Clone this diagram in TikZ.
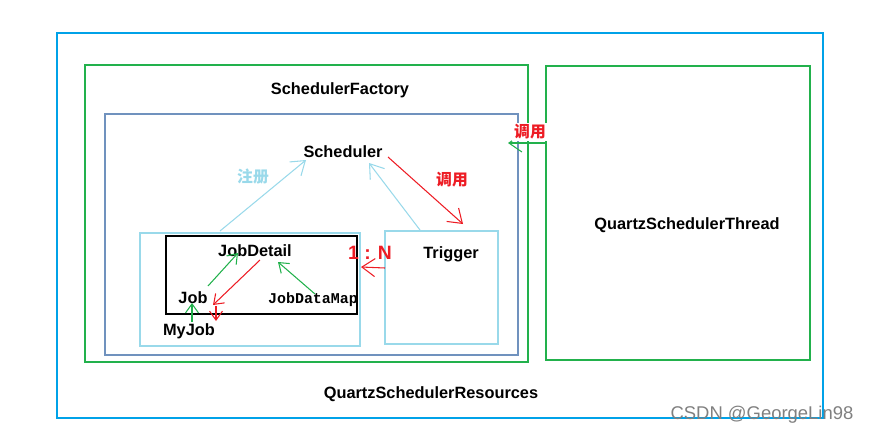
\documentclass[tikz,border=0pt]{standalone}
\usepackage{fontspec}
\setmainfont{Liberation Sans}
\setmonofont{Liberation Mono}
\newfontfamily\cjk{Noto Sans CJK SC}
\usetikzlibrary{arrows.meta}
\definecolor{paintgreen}{HTML}{22B14C}
\definecolor{paintred}{HTML}{ED1C24}
\definecolor{paintsky}{HTML}{99D9EA}
\definecolor{paintsteel}{HTML}{7092BE}
\definecolor{paintcyan}{HTML}{00A2E8}
\begin{document}
\begin{tikzpicture}[x=0.02cm,y=-0.02cm,line width=0.6pt,
	lbl/.style={font=\bfseries\fontsize{9.3}{10}\selectfont,inner sep=1pt},
	zh/.style={font=\cjk\bfseries\fontsize{9}{10}\selectfont,inner sep=1pt},
	arr/.style={-{Straight Barb[length=2.6mm,width=3.6mm]}},
	sarr/.style={-{Straight Barb[length=1.8mm,width=2.6mm]}}]
	\useasboundingbox (0,0) rectangle (870,437);
	% boxes
	\draw[paintcyan] (57,33) rectangle (823,418);
	\draw[paintgreen] (85,65) rectangle (528,362);
	\draw[paintgreen] (546,66) rectangle (810,360);
	\draw[paintsteel] (105,114) rectangle (518,355);
	\draw[paintsky] (140,233) rectangle (360,346);
	\draw[black] (166,236) rectangle (357,314);
	\draw[paintsky] (385,231) rectangle (498,344);
	% labels
	\node[lbl] (factory) at (340,90) {SchedulerFactory};
	\node[lbl] (sched) at (343,152) {Scheduler};
	\node[lbl] (thread) at (687,225) {QuartzSchedulerThread};
	\node[lbl] (res) at (431,394) {QuartzSchedulerResources};
	\node[lbl] (detail) at (255,251) {JobDetail};
	\node[lbl] (job) at (193,298) {Job};
	\node[lbl] (myjob) at (189,331) {MyJob};
	\node[lbl] (trigger) at (451,254) {Trigger};
	\node[font=\ttfamily\bfseries\fontsize{8.5}{10}\selectfont,inner sep=1pt] (datamap) at (313,300) {JobDataMap};
	\node[lbl,text=paintred,font=\bfseries\fontsize{11}{12}\selectfont] (ratio) at (370,253) {1 : N};
	\node[zh,text=paintsky] (reg) at (253,177) {注册};
	\node[zh,text=paintred] (call) at (452,180) {调用};
	\node[font=\fontsize{10.5}{12}\selectfont,text=gray,inner sep=1pt] (mark) at (762,415) {CSDN @GeorgeLin98};
	% connector ends
	\coordinate (a1) at (220,231); \coordinate (a2) at (306,160);
	\coordinate (b1) at (420,230); \coordinate (b2) at (369,163);
	\coordinate (c1) at (388,157); \coordinate (c2) at (463,224);
	\coordinate (d1) at (546,143); \coordinate (d2) at (508,143);
	\coordinate (e1) at (385,268); \coordinate (e2) at (361,267);
	\coordinate (f1) at (208,286); \coordinate (f2) at (238,253);
	\coordinate (g1) at (260,260); \coordinate (g2) at (213,305);
	\coordinate (h1) at (315,294); \coordinate (h2) at (278,262);
	\coordinate (i1) at (192,322); \coordinate (i2) at (192,303);
	\coordinate (j1) at (216,306); \coordinate (j2) at (216,321);
	% connectors
	\draw[paintsky,arr] (a1) -- (a2);
	\draw[paintsky,arr] (b1) -- (b2);
	\draw[paintred,arr] (c1) -- (c2);
	\draw[paintgreen,arr] (d1) -- (d2);
	\node[zh,text=paintred,fill=white] (call2) at (530,132) {调用};
	\draw[paintred,arr] (e1) -- (e2);
	\draw[paintgreen,sarr] (f1) -- (f2);
	\draw[paintred,sarr] (g1) -- (g2);
	\draw[paintgreen,sarr] (h1) -- (h2);
	\draw[paintgreen,sarr] (i1) -- (i2);
	\draw[paintred,sarr] (j1) -- (j2);
\end{tikzpicture}
\end{document}
